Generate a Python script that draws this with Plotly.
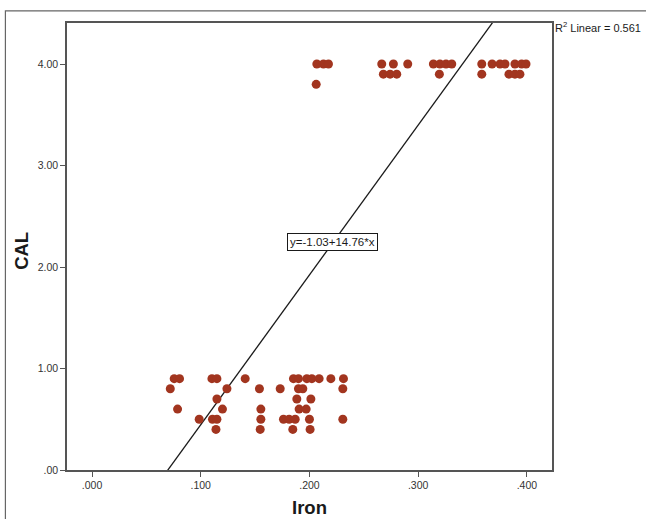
import plotly.graph_objects as go

# ---- data ----
iron_top = [0.2068, 0.2129, 0.2175, 0.2062,
            0.2665, 0.2772, 0.2904, 0.2680, 0.2742, 0.2803,
            0.3140, 0.3200, 0.3256, 0.3309, 0.3195,
            0.3585, 0.3680, 0.3753, 0.3799, 0.3890, 0.3952, 0.3992,
            0.3585, 0.3835, 0.3890, 0.3936]
cal_top = [4.0, 4.0, 4.0, 3.8,
           4.0, 4.0, 4.0, 3.9, 3.9, 3.9,
           4.0, 4.0, 4.0, 4.0, 3.9,
           4.0, 4.0, 4.0, 4.0, 4.0, 4.0, 4.0,
           3.9, 3.9, 3.9, 3.9]

iron_low = [0.0756, 0.0805, 0.1103, 0.1149, 0.1409, 0.1853, 0.1899, 0.1976, 0.2022, 0.2089, 0.2197, 0.2313,
            0.0720, 0.1241, 0.1540, 0.1731, 0.1899, 0.1939, 0.2307,
            0.1149, 0.1884, 0.2013,
            0.0787, 0.1200, 0.1553, 0.1905, 0.1970,
            0.0986, 0.1108, 0.1149, 0.1553, 0.1761, 0.1813, 0.1869, 0.2000, 0.2307,
            0.1140, 0.1547, 0.1847, 0.2006]
cal_low = [0.9] * 12 + [0.8] * 7 + [0.7] * 3 + [0.6] * 5 + [0.5] * 9 + [0.4] * 4

intercept = -1.03
slope = 14.76
r2_text = "R<sup>2</sup> Linear = 0.561"
eq_text = "y=-1.03+14.76*x"
x_title = "Iron"
y_title = "CAL"

x_tickvals = [0.0, 0.1, 0.2, 0.3, 0.4]
x_ticktext = [".000", ".100", ".200", ".300", ".400"]
y_tickvals = [0, 1, 2, 3, 4]
y_ticktext = [".00", "1.00", "2.00", "3.00", "4.00"]

iron = iron_low + iron_top
cal = cal_low + cal_top

fit_x = [0.0, 0.42]
fit_y = [intercept + slope * v for v in fit_x]

fig = go.Figure()
fig.add_trace(go.Scatter(x=fit_x, y=fit_y, mode="lines",
                         line=dict(color="#1a1a1a", width=1.3), hoverinfo="skip"))
fig.add_trace(go.Scatter(x=iron, y=cal, mode="markers",
                         marker=dict(size=9, color="#A2351F", line=dict(width=0))))

axis_common = dict(showline=True, mirror=True, linecolor="#555555", linewidth=1.5,
                   ticks="outside", ticklen=5, tickcolor="#555555", tickwidth=1.2,
                   showgrid=False, zeroline=False, automargin=False,
                   tickfont=dict(family="Arial", size=10.5, color="#333333"))

title_font = dict(family="Arial", size=18.5, color="#1a1a1a")

fig.update_layout(
    width=646, height=519,
    margin=dict(l=67, r=94, t=23, b=49),
    paper_bgcolor="white", plot_bgcolor="white",
    showlegend=False,
    xaxis=dict(range=[-0.023, 0.4231], tickvals=x_tickvals, ticktext=x_ticktext, **axis_common),
    yaxis=dict(range=[0, 4.404], tickvals=y_tickvals, ticktext=y_ticktext, **axis_common),
    annotations=[
        dict(text=f"<b>{x_title}</b>", xref="paper", yref="paper", x=0.5, y=-0.083,
             xanchor="center", yanchor="middle", showarrow=False, font=title_font),
        dict(text=f"<b>{y_title}</b>", xref="paper", yref="paper", x=-0.093, y=0.49,
             xanchor="center", yanchor="middle", showarrow=False, textangle=-90, font=title_font),
        dict(text=r2_text, xref="paper", yref="paper", x=1.002, y=0.99,
             xanchor="left", yanchor="middle", showarrow=False,
             font=dict(family="Arial", size=11, color="#1a1a1a")),
        dict(text=eq_text, xref="x", yref="y", x=0.2209, y=2.246,
             xanchor="center", yanchor="middle", showarrow=False,
             bgcolor="white", bordercolor="#1a1a1a", borderwidth=1, borderpad=2,
             font=dict(family="Arial", size=11.5, color="#1a1a1a")),
    ],
    shapes=[
        dict(type="rect", xref="paper", yref="paper", x0=-0.127, x1=1.25, y0=-0.15, y1=1.027,
             line=dict(color="#666666", width=1.2), layer="below"),
    ],
)

fig.write_html("out.html")
